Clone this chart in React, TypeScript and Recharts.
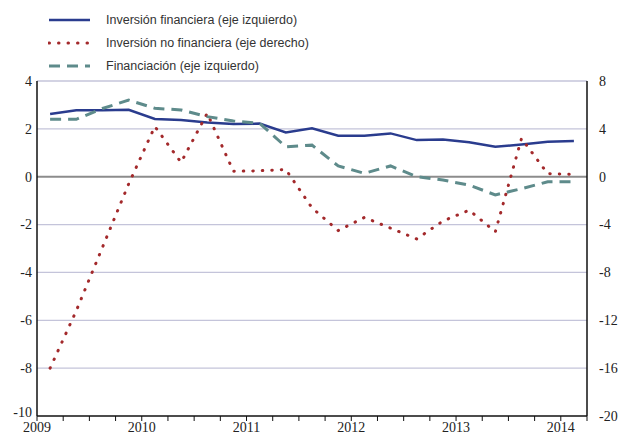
import React from "react";
import { ComposedChart, Line, XAxis, YAxis, CartesianGrid, ReferenceLine, Legend } from "recharts";

const quarters = [
  "2009T1","2009T2","2009T3","2009T4",
  "2010T1","2010T2","2010T3","2010T4",
  "2011T1","2011T2","2011T3","2011T4",
  "2012T1","2012T2","2012T3","2012T4",
  "2013T1","2013T2","2013T3","2013T4",
  "2014T1",
];
const inversionFinanciera = [2.62, 2.78, 2.78, 2.8, 2.41, 2.37, 2.27, 2.2, 2.22, 1.85, 2.02, 1.71, 1.71, 1.81, 1.53, 1.56, 1.44, 1.25, 1.35, 1.46, 1.49];
const inversionNoFinanciera = [-16.0, -11.2, -5.9, -0.6, 4.2, 1.2, 5.3, 0.45, 0.5, 0.6, -2.6, -4.5, -3.4, -4.3, -5.2, -3.7, -2.8, -4.6, 3.2, 0.25, 0.2];
const financiacion = [2.4, 2.4, 2.85, 3.2, 2.86, 2.79, 2.51, 2.33, 2.23, 1.25, 1.32, 0.45, 0.14, 0.45, 0.0, -0.14, -0.35, -0.76, -0.5, -0.21, -0.21];

const leftTicks = [-10, -8, -6, -4, -2, 0, 2, 4];
const rightTicks = [-20, -16, -12, -8, -4, 0, 4, 8];
const xTicks = Array.from({ length: 22 }, (_, i) => i);
const yearLabels = ["2009", "2010", "2011", "2012", "2013", "2014"];

const data = quarters.map((q, i) => ({
  q,
  x: i + 0.5,
  fin: inversionFinanciera[i],
  nofin: inversionNoFinanciera[i],
  finan: financiacion[i],
}));

const BLUE = "#2A3C8E";
const RED = "#A3292B";
const TEAL = "#5E8B8B";
const serifStyle: React.CSSProperties = { fontFamily: "Liberation Serif, DejaVu Serif, serif", fontSize: 14 };

const legendItems = [
  { label: "Inversión financiera (eje izquierdo)", color: BLUE, dash: undefined, width: 2.5, cap: "butt" },
  { label: "Inversión no financiera (eje derecho)", color: RED, dash: "0.5 9", width: 3, cap: "round" },
  { label: "Financiación (eje izquierdo)", color: TEAL, dash: "11 7", width: 3, cap: "butt" },
];

const LegendContent = () => (
  <div style={{ fontFamily: "Liberation Sans, Arial, sans-serif", fontSize: 12.5, color: "#333" }}>
    {legendItems.map((it) => (
      <div key={it.label} style={{ display: "flex", alignItems: "center", height: 23 }}>
        <svg width={44} height={10} style={{ marginRight: 14 }}>
          <line x1={1} y1={5} x2={42} y2={5} stroke={it.color} strokeWidth={it.width}
            strokeDasharray={it.dash} strokeLinecap={it.cap as any} />
        </svg>
        <span>{it.label}</span>
      </div>
    ))}
  </div>
);

const LeftTick = (props: any) => {
  const { x, y, payload } = props;
  const lift = payload.value === leftTicks[0] ? -4 : 0;
  return (
    <text x={x} y={y + lift} dy="0.35em" textAnchor="end" style={serifStyle} fill="#222">
      {payload.value}
    </text>
  );
};
const RightTick = (props: any) => {
  const { x, y, payload } = props;
  return (
    <text x={x} y={y} dy="0.35em" textAnchor="start" style={serifStyle} fill="#222">
      {payload.value}
    </text>
  );
};
const XTick = (props: any) => {
  const { x, y, payload } = props;
  const v = payload.value as number;
  if (v % 4 !== 0) return <g />;
  return (
    <text x={x} y={y} dy="0.75em" textAnchor="middle" style={serifStyle} fill="#222">
      {yearLabels[v / 4]}
    </text>
  );
};

export default function App() {
  return (
    <div style={{ position: "absolute", left: 0, top: 0, background: "#fff" }}>
      <ComposedChart width={618} height={433} data={data} margin={{ top: 81, right: 6, left: 7, bottom: 0 }}>
        <CartesianGrid yAxisId="left" vertical={false} stroke="#C4C4DA" strokeWidth={1.3}
          horizontalValues={[-8, -6, -4, -2, 2, 4]} />
        <ReferenceLine yAxisId="left" y={0} stroke="#8C8C8C" strokeWidth={2} />
        <XAxis dataKey="x" type="number" domain={[0, 21]} ticks={xTicks} interval={0}
          height={17} tickSize={5} tickMargin={0}
          axisLine={{ stroke: "#111", strokeWidth: 1.5 }} tickLine={{ stroke: "#111", strokeWidth: 1 }}
          tick={<XTick />} allowDataOverflow />
        <YAxis yAxisId="left" orientation="left" domain={[-10, 4]} ticks={leftTicks} interval={0}
          width={30} tickLine={false} tickSize={4} tickMargin={1}
          axisLine={{ stroke: "#111", strokeWidth: 1.5 }} tick={<LeftTick />} />
        <YAxis yAxisId="right" orientation="right" domain={[-20, 8]} ticks={rightTicks} interval={0}
          width={25} tickLine={false} tickSize={10} tickMargin={2}
          axisLine={{ stroke: "#111", strokeWidth: 1.5 }} tick={<RightTick />} />
        <Legend verticalAlign="middle" align="center" layout="horizontal"
          wrapperStyle={{ top: 8, left: 48, width: 320 }} content={<LegendContent />} />
        <Line yAxisId="left" dataKey="fin" name="Inversión financiera (eje izquierdo)" type="linear"
          stroke={BLUE} strokeWidth={2.5} dot={false} isAnimationActive={false} />
        <Line yAxisId="right" dataKey="nofin" name="Inversión no financiera (eje derecho)" type="linear"
          stroke={RED} strokeWidth={3} strokeDasharray="0.5 9" strokeLinecap="round" dot={false} isAnimationActive={false} />
        <Line yAxisId="left" dataKey="finan" name="Financiación (eje izquierdo)" type="linear"
          stroke={TEAL} strokeWidth={3} strokeDasharray="11 7" dot={false} isAnimationActive={false} />
      </ComposedChart>
    </div>
  );
}
